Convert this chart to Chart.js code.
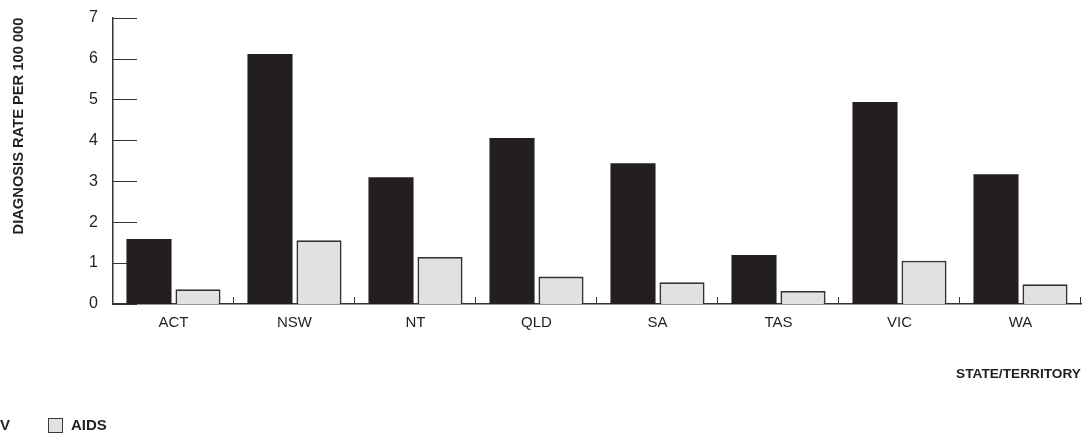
<!DOCTYPE html>
<html>
<head>
<meta charset="utf-8">
<script src="https://cdn.jsdelivr.net/npm/chart.js@4/dist/chart.umd.min.js"></script>
<style>
  html, body { margin: 0; padding: 0; background: #fff; overflow: hidden; }
  #wrap { position: relative; width: 1082px; height: 434px; }
  #leyenda { position: absolute; left: -38px; top: 417px; display: flex; align-items: center;
    font: bold 15px "Liberation Sans", Arial, sans-serif; color: #231f20; white-space: nowrap; }
  .item { display: flex; align-items: center; margin-right: 38px; line-height: 16px; }
  .caja { width: 15px; height: 15px; box-sizing: border-box; border: 1.5px solid #3a3a3a; margin-right: 8px; }
</style>
</head>
<body>
<div id="wrap">
  <canvas id="grafico" width="1082" height="434"></canvas>
  <div id="leyenda"></div>
</div>
<script>
// datos
const estados = ['ACT', 'NSW', 'NT', 'QLD', 'SA', 'TAS', 'VIC', 'WA'];
const tasaHiv = [1.59, 6.11, 3.10, 4.06, 3.44, 1.20, 4.94, 3.17];
const tasaAids = [0.36, 1.56, 1.15, 0.67, 0.53, 0.32, 1.06, 0.48];
const marcasY = [0, 1, 2, 3, 4, 5, 6, 7];

const fuente = '"Liberation Sans", Arial, sans-serif';
const colorTexto = '#231f20';

const series = [
    { label: 'HIV', data: tasaHiv, backgroundColor: '#231f20', borderColor: '#231f20', borderWidth: 0 },
    { label: 'AIDS', data: tasaAids, backgroundColor: '#e0e1e3', borderColor: '#333333', borderWidth: 1.8 }
];

// marcas hacia adentro del eje (y) y separadores cortos entre categorias (x)
const marcasInternas = {
    id: 'marcasInternas',
    beforeDatasetsDraw(chart) {
        const { ctx, chartArea, scales: { x, y } } = chart;
        ctx.save();
        ctx.strokeStyle = '#333';
        ctx.lineWidth = 1;
        ctx.beginPath();
        marcasY.forEach(v => {
            const py = Math.round(y.getPixelForValue(v)) + 0.5;
            ctx.moveTo(chartArea.left, py);
            ctx.lineTo(chartArea.left + 24, py);
        });
        for (let i = 1; i <= estados.length; i++) {
            const px = Math.round(x.getPixelForValue(i - 0.5)) - 0.5;
            ctx.moveTo(px, chartArea.bottom);
            ctx.lineTo(px, chartArea.bottom - 7);
        }
        ctx.stroke();
        ctx.restore();
    }
};

const ctx = document.getElementById('grafico').getContext('2d');
window.myChart = new Chart(ctx, {
    type: 'bar',
    data: {
        labels: estados,
        datasets: series.map(s => Object.assign({ barPercentage: 0.92, categoryPercentage: 0.81 }, s))
    },
    options: {
        responsive: false,
        animation: false,
        layout: { padding: { top: 0, right: 1, bottom: 0, left: 0 } },
        plugins: { legend: { display: false }, tooltip: { enabled: false } },
        scales: {
            x: {
                grid: { display: false, drawTicks: false },
                border: { display: true, color: '#333', width: 1.5 },
                ticks: { color: colorTexto, font: { family: fuente, size: 15 }, padding: 10, maxRotation: 0 },
                title: {
                    display: true, text: 'STATE/TERRITORY', align: 'end', color: colorTexto,
                    font: { family: fuente, size: 13.7, weight: 'bold' }, padding: { top: 0, bottom: 52 }
                },
                afterFit: function(scale) { scale.height = 130; }
            },
            y: {
                min: 0, max: 7,
                // las marcas reales las dibuja el plugin; aqui solo reservan espacio
                grid: { display: false, drawTicks: true, tickLength: 7 },
                border: { display: true, color: '#333', width: 1.5 },
                ticks: {
                    stepSize: 1, color: colorTexto, font: { family: fuente, size: 16 }, padding: 8,
                    callback: function(value) { return marcasY.includes(value) ? String(value) : null; }
                },
                title: {
                    display: true, text: 'DIAGNOSIS RATE PER 100 000', align: 'end', color: colorTexto,
                    font: { family: fuente, size: 14.7, weight: 'bold' }, padding: { top: 10, bottom: 0 }
                },
                afterFit: function(scale) { scale.width = 113; }
            }
        }
    },
    plugins: [marcasInternas]
});

// leyenda abajo (empieza fuera del borde izquierdo, como en el original)
const leyenda = document.getElementById('leyenda');
series.forEach(s => {
    const item = document.createElement('div');
    item.className = 'item';
    const caja = document.createElement('span');
    caja.className = 'caja';
    caja.style.background = s.backgroundColor;
    const texto = document.createElement('span');
    texto.textContent = s.label;
    item.appendChild(caja);
    item.appendChild(texto);
    leyenda.appendChild(item);
});
</script>
</body>
</html>
